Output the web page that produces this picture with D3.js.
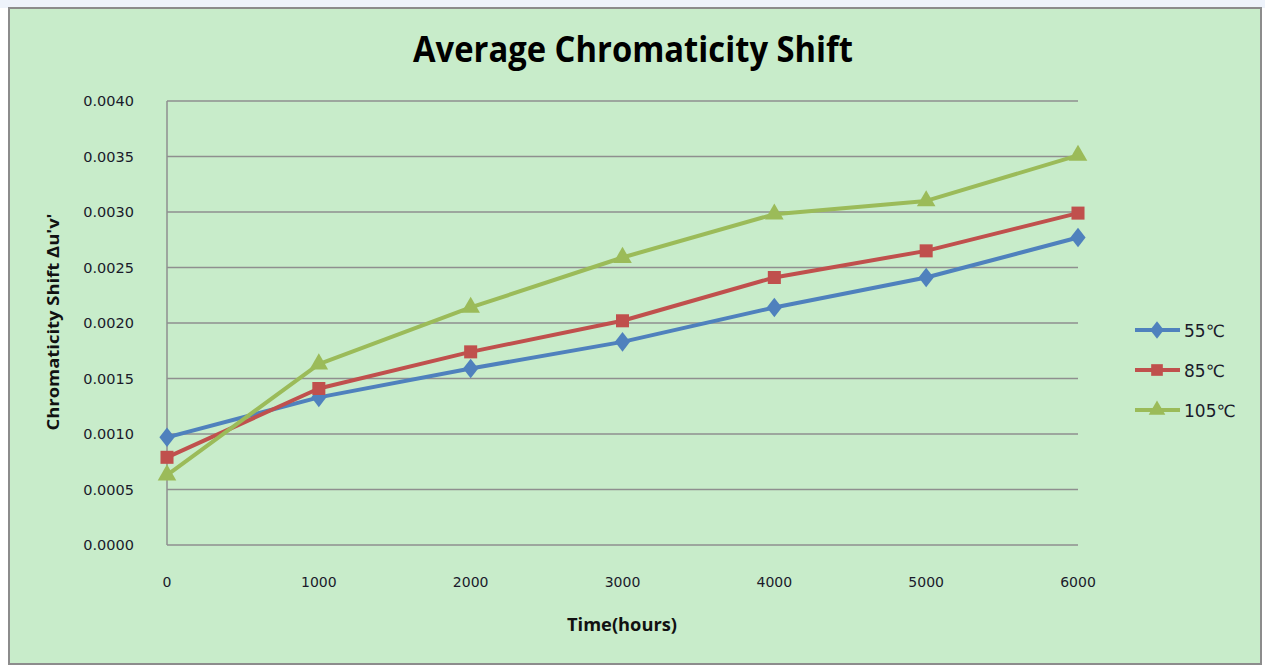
<!DOCTYPE html>
<html>
<head>
<meta charset="utf-8">
<script src="https://cdn.jsdelivr.net/npm/d3@7"></script>
<style>
  body { margin: 0; background: #fff; }
  svg { display: block; }
</style>
</head>
<body>
<div id="chart"></div>
<script>
// Data
const hours = [0, 1000, 2000, 3000, 4000, 5000, 6000];
const shift55 = [0.00097, 0.00133, 0.00159, 0.00183, 0.00214, 0.00241, 0.00277];
const shift85 = [0.00079, 0.00141, 0.00174, 0.00202, 0.00241, 0.00265, 0.00299];
const shift105 = [0.00063, 0.00163, 0.00214, 0.00259, 0.00298, 0.00310, 0.00351];
const seriesNames = ["55℃", "85℃", "105℃"];
const yTicks = [0, 0.0005, 0.001, 0.0015, 0.002, 0.0025, 0.003, 0.0035, 0.004];

const width = 1265, height = 666;
const margin = {left: 167, right: 1078, top: 101, bottom: 545};

const svg = d3.select("#chart").append("svg")
    .attr("width", width)
    .attr("height", height);

// faint top strip
svg.append("rect").attr("x", 0).attr("y", 0).attr("width", width).attr("height", 8)
    .attr("fill", "#eef3fb");

// chart background
svg.append("rect")
    .attr("x", 9).attr("y", 8).attr("width", 1252).attr("height", 656)
    .attr("fill", "#c8ecca")
    .attr("stroke", "#8c8c8c")
    .attr("stroke-width", 2);

const x = d3.scaleLinear().domain([0, 6000]).range([margin.left, margin.right]);
const y = d3.scaleLinear().domain([0, 0.004]).range([margin.bottom, margin.top]);

// Gridlines
svg.append("g")
    .selectAll("line")
    .data(yTicks)
    .join("line")
    .attr("x1", margin.left)
    .attr("x2", margin.right)
    .attr("y1", d => y(d))
    .attr("y2", d => y(d))
    .attr("stroke", "#8f8f8f")
    .attr("stroke-width", 1.5);

// Left axis line
svg.append("line")
    .attr("x1", margin.left).attr("x2", margin.left)
    .attr("y1", margin.top).attr("y2", margin.bottom)
    .attr("stroke", "#8f8f8f").attr("stroke-width", 1.5);

const font = "'Open Sans', sans-serif";
const tickFont = "'DejaVu Sans', sans-serif";

// Y tick labels
svg.append("g")
    .selectAll("text")
    .data(yTicks)
    .join("text")
    .attr("x", 134)
    .attr("y", d => y(d) + 5)
    .attr("text-anchor", "end")
    .attr("font-family", tickFont)
    .attr("font-size", 14.5)
    .attr("fill", "#1a1a2a")
    .text(d => d3.format(".4f")(d));

// X tick labels
svg.append("g")
    .selectAll("text")
    .data(hours)
    .join("text")
    .attr("x", d => x(d))
    .attr("y", 587)
    .attr("text-anchor", "middle")
    .attr("font-family", tickFont)
    .attr("font-size", 14)
    .attr("fill", "#1a1a2a")
    .text(d => d);

// Title
svg.append("text")
    .attr("x", 633).attr("y", 62)
    .attr("text-anchor", "middle")
    .attr("font-family", font)
    .attr("font-weight", "bold")
    .attr("font-size", 35)
    .attr("textLength", 440)
    .attr("lengthAdjust", "spacingAndGlyphs")
    .attr("fill", "#000")
    .text("Average Chromaticity Shift");

// Axis titles
svg.append("text")
    .attr("x", 622).attr("y", 631)
    .attr("text-anchor", "middle")
    .attr("font-family", font)
    .attr("font-weight", "bold")
    .attr("font-size", 18)
    .attr("textLength", 110)
    .attr("lengthAdjust", "spacingAndGlyphs")
    .attr("fill", "#111")
    .text("Time(hours)");

svg.append("text")
    .attr("transform", "translate(59,322) rotate(-90)")
    .attr("text-anchor", "middle")
    .attr("font-family", font)
    .attr("font-weight", "bold")
    .attr("font-size", 16)
    .attr("textLength", 217)
    .attr("lengthAdjust", "spacingAndGlyphs")
    .attr("fill", "#111")
    .text("Chromaticity  Shift Δu'v'");

// Series
const series = [
    {name: seriesNames[0], values: shift55, color: "#4f81bd", symbol: d3.symbolDiamond, size: 110},
    {name: seriesNames[1], values: shift85, color: "#c0504d", symbol: d3.symbolSquare, size: 170},
    {name: seriesNames[2], values: shift105, color: "#9bbb59", symbol: d3.symbolTriangle, size: 150}
];

const line = d3.line()
    .x((d, i) => x(hours[i]))
    .y(d => y(d));

series.forEach(s => {
    svg.append("path")
        .datum(s.values)
        .attr("d", line)
        .attr("fill", "none")
        .attr("stroke", s.color)
        .attr("stroke-width", 4)
        .attr("stroke-linejoin", "round");
});

series.forEach(s => {
    const sym = d3.symbol().type(s.symbol).size(s.size);
    svg.append("g")
        .selectAll("path")
        .data(s.values)
        .join("path")
        .attr("d", sym)
        .attr("transform", (d, i) => {
            const sc = s.symbol === d3.symbolDiamond ? "scale(1.35,1)" : "";
            return `translate(${x(hours[i])},${y(d)}) ${sc}`;
        })
        .attr("fill", s.color);
});

// Legend
const legend = svg.append("g");
series.forEach((s, i) => {
    const ly = 330 + i * 40;
    legend.append("line")
        .attr("x1", 1135).attr("x2", 1180)
        .attr("y1", ly).attr("y2", ly)
        .attr("stroke", s.color).attr("stroke-width", 4);
    const sc = s.symbol === d3.symbolDiamond ? "scale(1.35,1)" : "";
    legend.append("path")
        .attr("d", d3.symbol().type(s.symbol).size(s.size * 0.8))
        .attr("transform", `translate(1157,${ly}) ${sc}`)
        .attr("fill", s.color);
    legend.append("text")
        .attr("x", 1184).attr("y", ly + 7)
        .attr("font-family", tickFont)
        .attr("font-size", 17)
        .attr("fill", "#1a1a2a")
        .text(s.name);
});
</script>
</body>
</html>
